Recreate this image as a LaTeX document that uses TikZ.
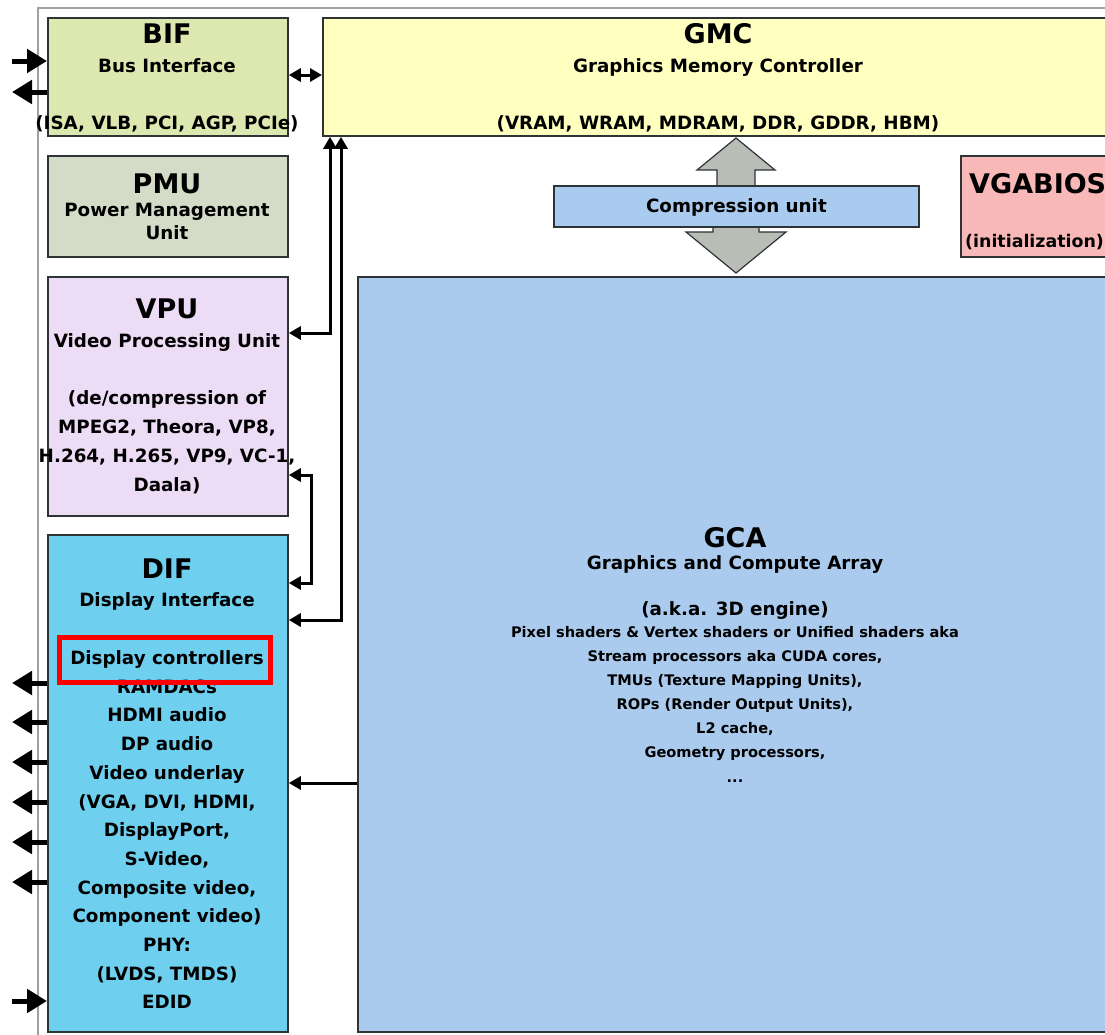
\documentclass[tikz,border=0pt]{standalone}
\usepackage{fontspec}
\setmainfont{DejaVu Sans}
\usetikzlibrary{arrows.meta}
\newcommand\myTitle{\fontsize{27}{32}\selectfont\bfseries}
\newcommand\mySub{\fontsize{18.3}{22}\selectfont\bfseries}
\newcommand\mySmall{\fontsize{14.6}{17}\selectfont\bfseries}
\definecolor{boxline}{HTML}{2E3436}
\definecolor{cbif}{HTML}{DDE8B0}
\definecolor{cgmc}{HTML}{FFFFC0}
\definecolor{cpmu}{HTML}{D4DCC8}
\definecolor{cvpu}{HTML}{ECDCF6}
\definecolor{cdif}{HTML}{6ECFEF}
\definecolor{ccomp}{HTML}{A9CBEF}
\definecolor{cgca}{HTML}{AACBEE}
\definecolor{cbios}{HTML}{F9B8B8}
\definecolor{cgray}{HTML}{BABDB6}
\definecolor{cframe}{HTML}{A0A0A0}
\tikzset{
  box/.style={draw=boxline, line width=1.8pt, inner sep=0pt, anchor=north west},
  ttl/.style={anchor=mid, inner sep=0pt, font=\myTitle, yshift=-8pt},
  sub/.style={anchor=mid, inner sep=0pt, font=\mySub, yshift=-5pt},
  sml/.style={anchor=mid, inner sep=0pt, font=\mySmall, yshift=-3pt},
  conn/.style={line width=3pt, >={Triangle[length=12pt,width=13pt]}},
  bigarrow/.style={line width=5pt, -{Triangle[length=20pt,width=23pt]}},
}
\begin{document}
\begin{tikzpicture}[x=1pt,y=-1pt]
\useasboundingbox (0,0) rectangle (1105,1034);
\clip (0,0) rectangle (1105,1034);
% outer frame
\draw[cframe, line width=1.2pt] (1130,8) -- (38,8) -- (38,1040);

% boxes
\node[box, fill=cbif, minimum width=240, minimum height=118] (bif) at (47,17) {};
\node[box, fill=cgmc, minimum width=808, minimum height=118] (gmc) at (322,17) {};
\node[box, fill=cpmu, minimum width=240, minimum height=101] (pmu) at (47,155) {};
\node[box, fill=cvpu, minimum width=240, minimum height=239] (vpu) at (47,276) {};
\node[box, fill=cdif, minimum width=240, minimum height=497] (dif) at (47,534) {};
\node[box, fill=cgca, minimum width=773, minimum height=755] (gca) at (357,276) {};
\node[box, fill=cbios, minimum width=170, minimum height=101] (bios) at (960,155) {};

% gray double arrow (drawn behind compression unit)
\filldraw[fill=cgray, draw=boxline, line width=1.2pt]
  (717,190) -- (717,170) -- (697,170) -- (736,138) -- (775,170) -- (755,170) -- (755,190) -- cycle;
\filldraw[fill=cgray, draw=boxline, line width=1.2pt]
  (713,220) -- (713,232) -- (686,232) -- (736,273) -- (786,232) -- (759,232) -- (759,220) -- cycle;
\node[box, fill=ccomp, minimum width=365, minimum height=41] (comp) at (553,185) {};
\node[sub, yshift=2pt] (tcomp) at (comp.center) {Compression unit};

% BIF text
\node[ttl] (t1) at (167,33) {BIF};
\node[sub] (t2) at (167,65) {Bus Interface};
\node[sub] (t3) at (167,122) {(ISA, VLB, PCI, AGP, PCIe)};
% GMC text
\node[ttl] (t4) at (718,33) {GMC};
\node[sub] (t5) at (718,65) {Graphics Memory Controller};
\node[sub] (t6) at (718,122) {(VRAM, WRAM, MDRAM, DDR, GDDR, HBM)};
% PMU text
\node[ttl] (t7) at (167,183) {PMU};
\node[sub] (t8) at (167,209) {Power Management};
\node[sub] (t9) at (167,232) {Unit};
% VGABIOS
\node[ttl, anchor=west] (t10) at (969,176) {VGABIOS};
\node[sub, anchor=west, font=\fontsize{17.4}{21}\selectfont\bfseries] (t11) at (965,237) {(initialization)};
% VPU
\node[ttl] (t12) at (167,308) {VPU};
\node[sub] (t13) at (167,340) {Video Processing Unit};
\node[sub] (t14) at (167,397) {(de/compression of};
\node[sub] (t15) at (167,426) {MPEG2, Theora, VP8,};
\node[sub] (t16) at (167,455) {H.264, H.265, VP9, VC-1,};
\node[sub] (t17) at (167,484) {Daala)};
% DIF
\node[ttl] (t18) at (167,568) {DIF};
\node[sub] (t19) at (167,599) {Display Interface};
\node[sub] (t20) at (167,657) {Display controllers};
\node[sub] (t21) at (167,686) {RAMDACs};
\node[sub] (t22) at (167,714) {HDMI audio};
\node[sub] (t23) at (167,743) {DP audio};
\node[sub] (t24) at (167,772) {Video underlay};
\node[sub] (t25) at (167,801) {(VGA, DVI, HDMI,};
\node[sub] (t26) at (167,829) {DisplayPort,};
\node[sub] (t27) at (167,858) {S-Video,};
\node[sub] (t28) at (167,887) {Composite video,};
\node[sub] (t29) at (167,915) {Component video)};
\node[sub] (t30) at (167,944) {PHY:};
\node[sub] (t31) at (167,973) {(LVDS, TMDS)};
\node[sub] (t32) at (167,1001) {EDID};
% GCA
\node[ttl] (t33) at (735,537) {GCA};
\node[sub] (t34) at (735,562) {Graphics and Compute Array};
\node[sub] (t35) at (735,608) {(a.k.a. 3D engine)};
\node[sml] (t36) at (735,632) {Pixel shaders \& Vertex shaders or Unified shaders aka};
\node[sml] (t37) at (735,656) {Stream processors aka CUDA cores,};
\node[sml] (t38) at (735,680) {TMUs (Texture Mapping Units),};
\node[sml] (t39) at (735,704) {ROPs (Render Output Units),};
\node[sml] (t40) at (735,728) {L2 cache,};
\node[sml] (t41) at (735,752) {Geometry processors,};
\node[sml] (t42) at (735,777) {...};

% red highlight
\node[draw=red, line width=5pt, inner sep=0pt, minimum width=211, minimum height=44.5, anchor=north west] (hl) at (56.5,635) {};

% connectors
\coordinate (bifin) at (12,61);
\coordinate (bifout) at (12,92);
\draw[bigarrow] (bifin) -- (bifin -| bif.west);
\draw[bigarrow] (bifout -| bif.west) -- (bifout);
\coordinate (bg) at (300,75);
\draw[conn, <->] (bg -| bif.east) -- (bg -| gmc.west);
\coordinate (v1) at (330,333);
\draw[conn, <->] (v1 -| vpu.east) -- (v1) -- (v1 |- gmc.south);
\coordinate (v2) at (341,620);
\draw[conn, <->] (v2 -| dif.east) -- (v2) -- (v2 |- gmc.south);
\coordinate (vd1) at (311,475);
\coordinate (vd2) at (311,583);
\draw[conn, <->] (vd1 -| vpu.east) -- (vd1) -- (vd2) -- (vd2 -| dif.east);
\coordinate (gd) at (320,783);
\draw[conn, ->] (gd -| gca.west) -- (gd -| dif.east);
\foreach \i/\yy in {1/683,2/722,3/762,4/802,5/842,6/882}{
  \coordinate (o\i) at (12,\yy);
  \draw[bigarrow] (o\i -| dif.west) -- (o\i);
}
\coordinate (edid) at (12,1001);
\draw[bigarrow] (edid) -- (edid -| dif.west);
\end{tikzpicture}
\end{document}
